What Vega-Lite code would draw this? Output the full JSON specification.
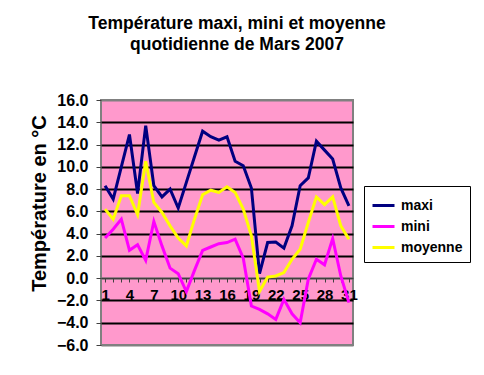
{
  "$schema": "https://vega.github.io/schema/vega-lite/v6.json",
  "width": 252,
  "height": 245,
  "autosize": {"type": "none"},
  "padding": {"left": 101, "top": 100, "right": 131, "bottom": 30},
  "background": "white",
  "title": {
    "text": ["Température maxi, mini et moyenne", "quotidienne de Mars 2007"],
    "font": "Liberation Sans",
    "fontSize": 17.5,
    "fontWeight": "bold",
    "color": "black",
    "anchor": "middle",
    "dx": 10,
    "offset": 39,
    "lineHeight": 21
  },
  "data": {
    "values": [
      {"day": 1, "maxi": 8.3, "mini": 3.6, "moyenne": 6.2},
      {"day": 2, "maxi": 7.1, "mini": 4.4, "moyenne": 5.3},
      {"day": 3, "maxi": 10.0, "mini": 5.3, "moyenne": 7.4},
      {"day": 4, "maxi": 12.9, "mini": 2.5, "moyenne": 7.4},
      {"day": 5, "maxi": 7.6, "mini": 3.0, "moyenne": 5.7},
      {"day": 6, "maxi": 13.7, "mini": 1.6, "moyenne": 10.5},
      {"day": 7, "maxi": 8.3, "mini": 5.1, "moyenne": 6.8},
      {"day": 8, "maxi": 7.3, "mini": 2.9, "moyenne": 5.9},
      {"day": 9, "maxi": 8.0, "mini": 0.9, "moyenne": 4.7},
      {"day": 10, "maxi": 6.3, "mini": 0.4, "moyenne": 3.6},
      {"day": 11, "maxi": 8.6, "mini": -1.2, "moyenne": 2.9},
      {"day": 12, "maxi": 10.9, "mini": 0.7, "moyenne": 5.3},
      {"day": 13, "maxi": 13.2, "mini": 2.5, "moyenne": 7.5},
      {"day": 14, "maxi": 12.7, "mini": 2.8, "moyenne": 7.9},
      {"day": 15, "maxi": 12.4, "mini": 3.1, "moyenne": 7.7},
      {"day": 16, "maxi": 12.7, "mini": 3.2, "moyenne": 8.2},
      {"day": 17, "maxi": 10.5, "mini": 3.5, "moyenne": 7.7},
      {"day": 18, "maxi": 10.1, "mini": 1.8, "moyenne": 6.2},
      {"day": 19, "maxi": 8.1, "mini": -2.5, "moyenne": 3.8},
      {"day": 20, "maxi": 0.4, "mini": -2.8, "moyenne": -1.2},
      {"day": 21, "maxi": 3.2, "mini": -3.2, "moyenne": 0.1},
      {"day": 22, "maxi": 3.25, "mini": -3.7, "moyenne": 0.2},
      {"day": 23, "maxi": 2.7, "mini": -1.9, "moyenne": 0.5},
      {"day": 24, "maxi": 4.7, "mini": -3.2, "moyenne": 1.7},
      {"day": 25, "maxi": 8.3, "mini": -4.0, "moyenne": 2.6},
      {"day": 26, "maxi": 9.0, "mini": -0.1, "moyenne": 5.0},
      {"day": 27, "maxi": 12.3, "mini": 1.7, "moyenne": 7.3},
      {"day": 28, "maxi": 11.5, "mini": 1.2, "moyenne": 6.6},
      {"day": 29, "maxi": 10.7, "mini": 3.55, "moyenne": 7.3},
      {"day": 30, "maxi": 8.1, "mini": 0.2, "moyenne": 4.7},
      {"day": 31, "maxi": 6.5, "mini": -2.2, "moyenne": 3.5}
    ]
  },
  "transform": [{"fold": ["maxi", "mini", "moyenne"], "as": ["serie", "temp"]}],
  "mark": {"type": "line", "strokeWidth": 3, "strokeJoin": "miter"},
  "encoding": {
    "x": {
      "field": "day",
      "type": "quantitative",
      "scale": {"domain": [0.5, 31.5], "nice": false, "zero": false},
      "axis": {
        "values": [1,2,3,4,5,6,7,8,9,10,11,12,13,14,15,16,17,18,19,20,21,22,23,24,25,26,27,28,29,30,31],
        "labelExpr": "(datum.value - 1) % 3 == 0 ? datum.label : ''",
        "grid": false,
        "offset": -67,
        "tickSize": 4,
        "domainColor": "#404040",
        "domainWidth": 1.5,
        "tickColor": "#404040",
        "labelFont": "Liberation Sans",
        "labelFontWeight": "bold",
        "labelFontSize": 15,
        "labelColor": "black",
        "labelPadding": 5,
        "labelFlush": false,
        "labelOverlap": false,
        "title": null
      }
    },
    "y": {
      "field": "temp",
      "type": "quantitative",
      "scale": {"domain": [-6, 16], "nice": false, "zero": false},
      "axis": {
        "values": [-6,-4,-2,0,2,4,6,8,10,12,14,16],
        "format": ".1f",
        "grid": true,
        "gridColor": {"condition": {"test": "datum.value == -6 || datum.value == 16 || datum.value == 0", "value": "#808080"}, "value": "black"},
        "gridWidth": 2,
        "domain": false,
        "tickSize": 5,
        "tickColor": "#404040",
        "labelFont": "Liberation Sans",
        "labelFontWeight": "bold",
        "labelFontSize": 16,
        "labelColor": "black",
        "labelPadding": 8,
        "title": "Température en °C",
        "titleFont": "Liberation Sans",
        "titleFontWeight": "bold",
        "titleFontSize": 20,
        "titleColor": "black",
        "titleX": -62,
        "titleY": 103,
        "titleAngle": -90,
        "titleAlign": "center",
        "titleBaseline": "middle"
      }
    },
    "color": {
      "field": "serie",
      "type": "nominal",
      "scale": {"domain": ["maxi", "mini", "moyenne"], "range": ["#000080", "#ff00ff", "#ffff00"]},
      "legend": {
        "orient": "none",
        "legendX": 263,
        "legendY": 86,
        "title": null,
        "fillColor": "white",
        "strokeColor": "black",
        "padding": 7,
        "symbolType": "stroke",
        "symbolSize": 484,
        "symbolStrokeWidth": 3,
        "rowPadding": 1,
        "labelOffset": 5,
        "labelFont": "Liberation Sans",
        "labelFontWeight": "bold",
        "labelFontSize": 14,
        "labelColor": "black"
      }
    }
  },
  "config": {
    "view": {"fill": "#ff99cc", "stroke": "#808080", "strokeWidth": 2}
  }
}
